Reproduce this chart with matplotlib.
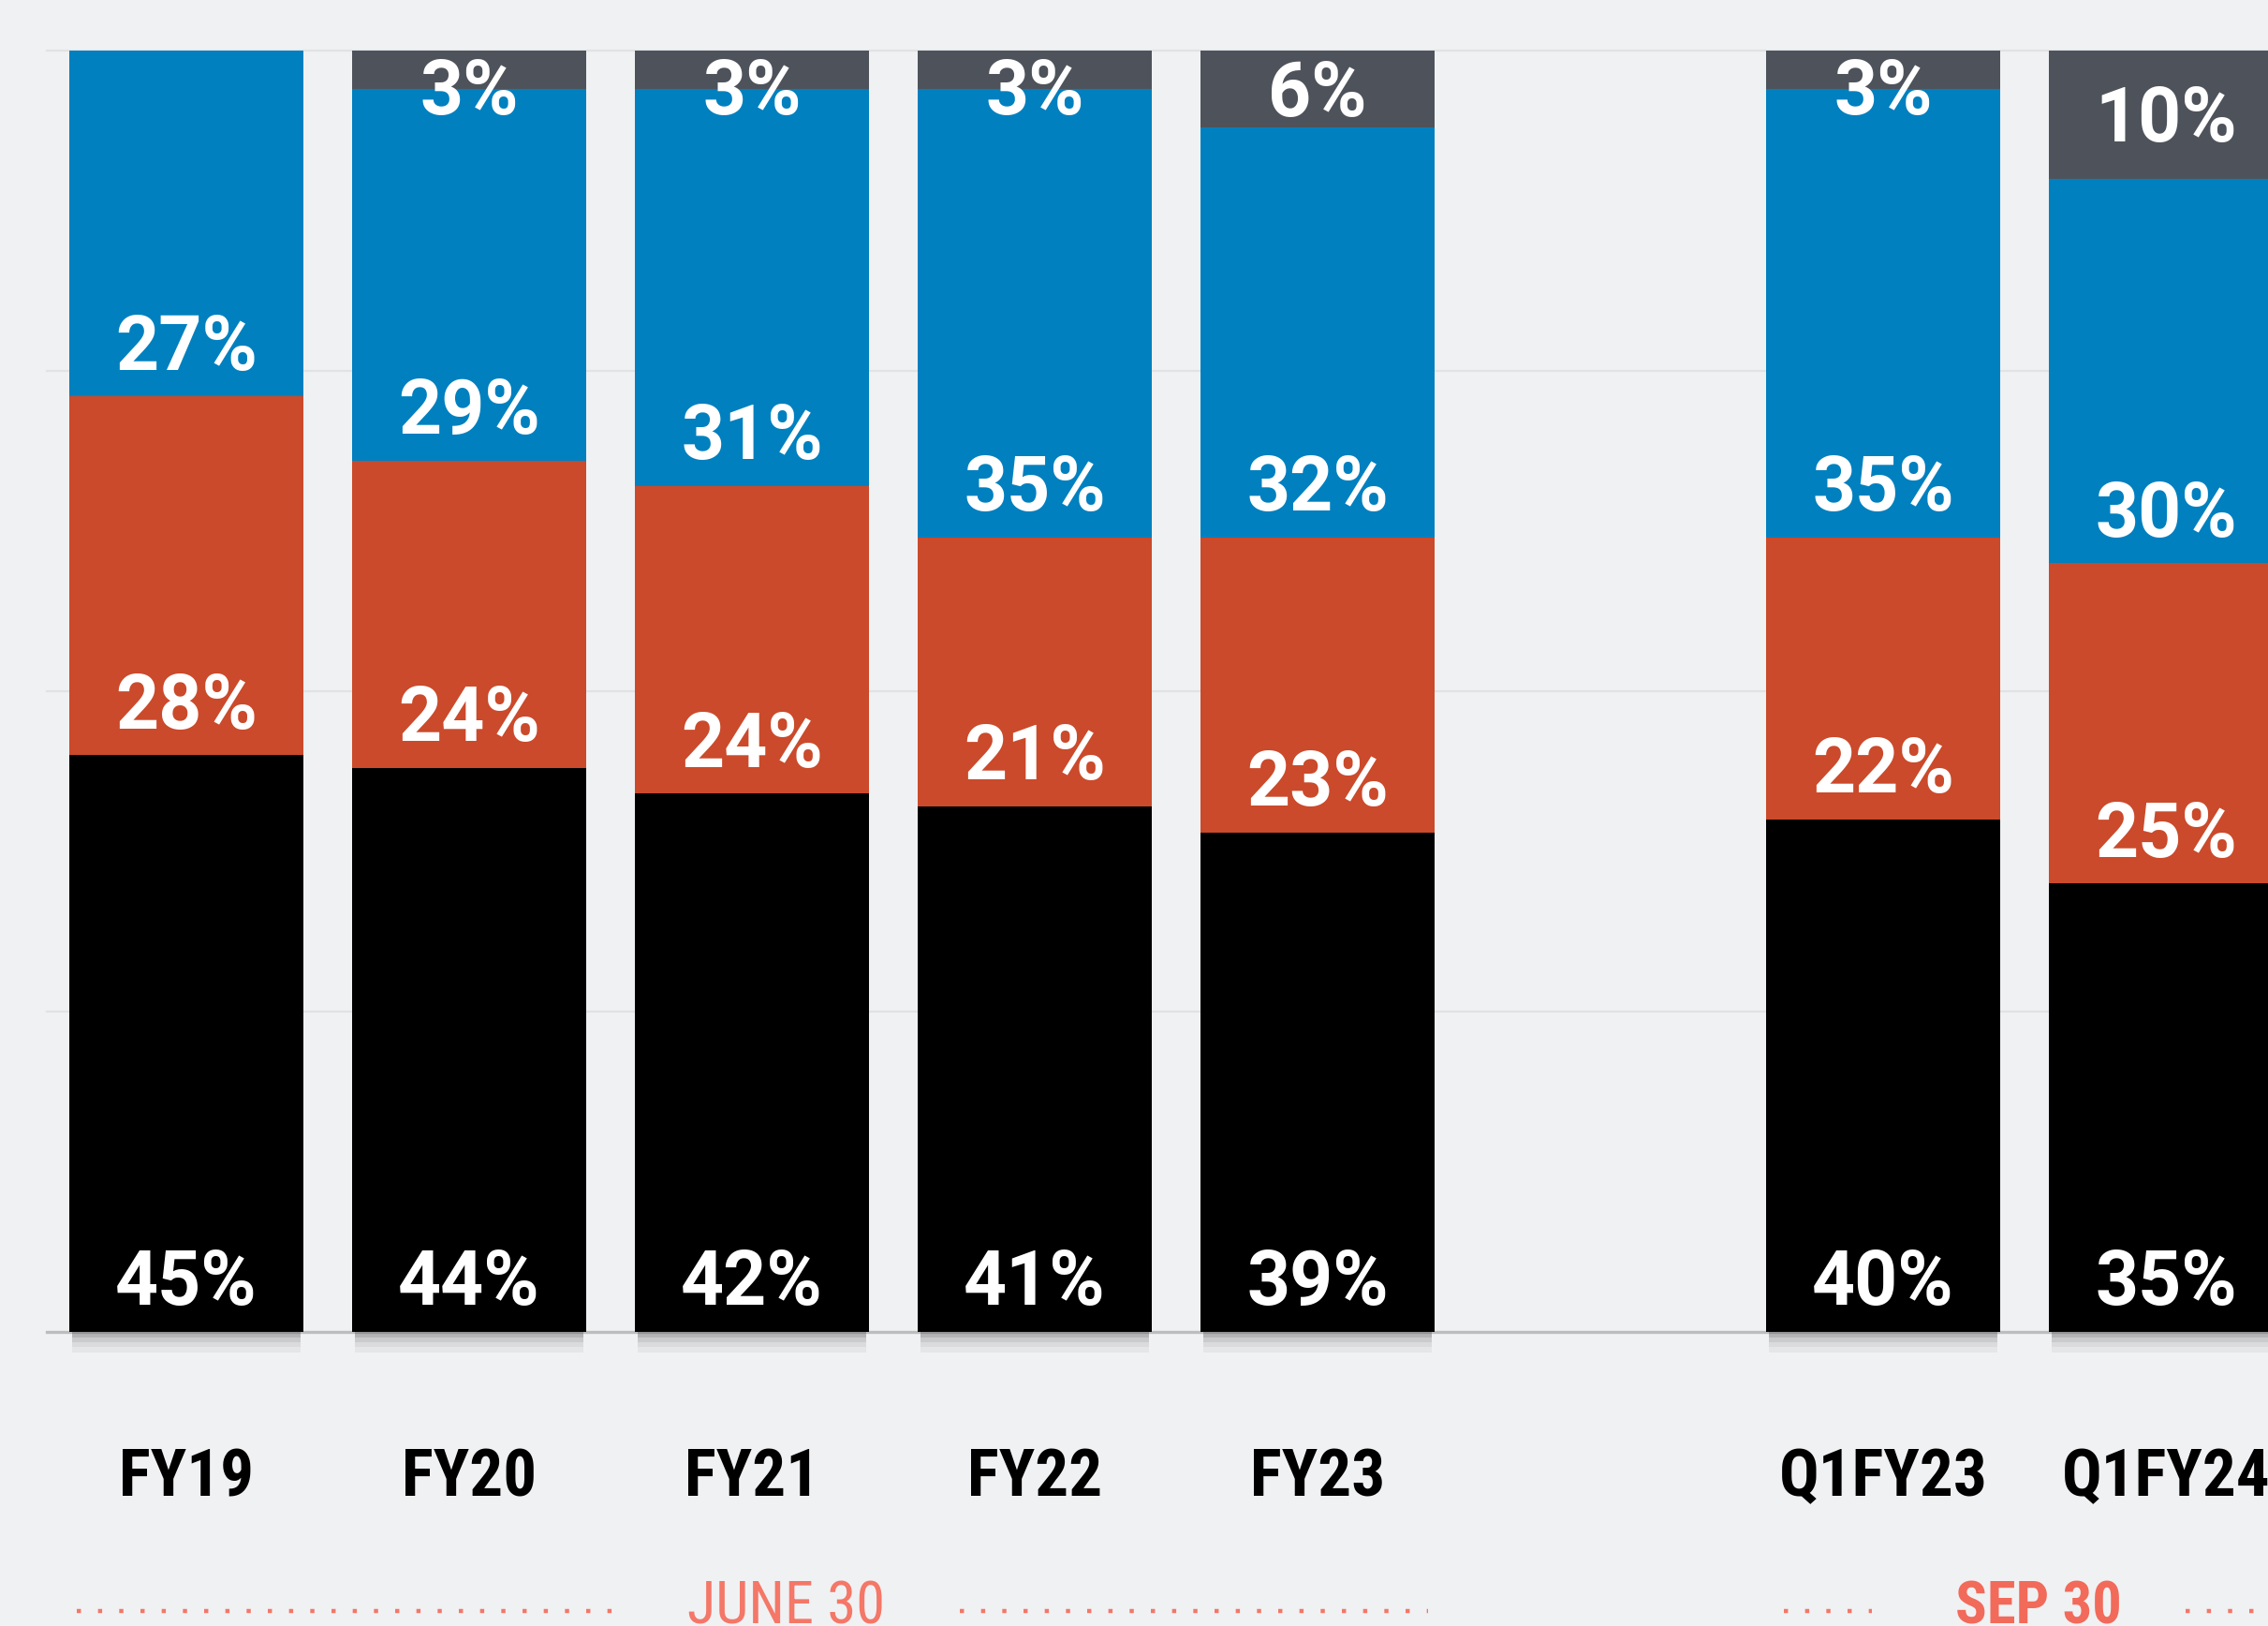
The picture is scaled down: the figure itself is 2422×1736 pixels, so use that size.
import matplotlib
matplotlib.use('Agg')
import matplotlib.pyplot as plt
from matplotlib import font_manager

# data, bottom segment first
periods = ['FY19', 'FY20', 'FY21', 'FY22', 'FY23', 'Q1FY23', 'Q1FY24']
black_vals = [45, 44, 42, 41, 39, 40, 35]
orange_vals = [28, 24, 24, 21, 23, 22, 25]
blue_vals = [27, 29, 31, 35, 32, 35, 30]
gray_vals = [0, 3, 3, 3, 6, 3, 10]

group_labels = ['JUNE 30', 'SEP 30']

# layout
x_pos = [0, 1, 2, 3, 4, 6, 7]
bar_w = 0.83
bg = '#f0f1f3'
colors = ['#000000', '#ca4a2b', '#0080bf', '#4e535b']
coral = '#f47767'

num_font = ['Roboto', 'DejaVu Sans']

# condensed face for the axis labels if one is around, else shrink Roboto a bit
installed = {f.name for f in font_manager.fontManager.ttflist}
narrow = [n for n in ['Roboto Condensed', 'Liberation Sans Narrow', 'DejaVu Sans Condensed']
          if n in installed]
if narrow:
    cat_font = [narrow[0], 'DejaVu Sans']
    cat_size, grp_size = 51, 45
else:
    cat_font = ['Roboto', 'DejaVu Sans']
    cat_size, grp_size = 44, 39

fig = plt.figure(figsize=(24.22, 17.36), dpi=100)
fig.patch.set_facecolor(bg)
ax = fig.add_axes([0, 0, 1, 1])
ax.set_facecolor(bg)
ax.set_xlim(-0.659, 7.361)
ax.set_ylim(-22.95, 103.95)
ax.axis('off')

# grid lines
for g in [25, 50, 75, 100]:
    ax.plot([-0.493, 7.361], [g, g], color='#e1e2e4', lw=1.6, zorder=0)
ax.plot([-0.493, 7.361], [0, 0], color='#bcbdbf', lw=2.4, zorder=1)

# soft shadow under bars
for k, a in enumerate([0.35, 0.22, 0.12, 0.06]):
    ax.bar(x_pos, [0.4] * len(x_pos), bottom=-0.4 * (k + 1), width=bar_w * 0.97,
           color='#444444', alpha=a, lw=0, zorder=1)

series = [black_vals, orange_vals, blue_vals, gray_vals]
bottoms = [0] * len(periods)
for vals, col in zip(series, colors):
    ax.bar(x_pos, vals, bottom=bottoms, width=bar_w, color=col, lw=0, zorder=2)
    bottoms = [b + v for b, v in zip(bottoms, vals)]

# value labels (baseline a bit above the bottom of each segment)
for i, x in enumerate(x_pos):
    base = 0
    for j, vals in enumerate(series):
        v = vals[i]
        if v == 0:
            continue
        if j == 3:
            y = min(base + v / 2, 97.1) - 2.1
        else:
            y = base + 2.1
        ax.text(x, y, '{}%'.format(v), ha='center', va='baseline', color='white',
                fontsize=58, fontweight='bold', family=num_font, zorder=3)
        base += v

# category labels
for x, lab in zip(x_pos, periods):
    ax.text(x, -12.8, lab, ha='center', va='baseline', color='black',
            fontsize=cat_size, fontweight='bold', family=cat_font)

# group labels with dotted rules
dots = dict(color=coral, lw=3.2, linestyle=(0, (1, 4.1)), solid_capstyle='butt')
ax.plot([-0.387, 1.553], [-21.8, -21.8], **dots)
ax.plot([2.735, 4.391], [-21.8, -21.8], **dots)
ax.plot([5.65, 5.96], [-21.8, -21.8], **dots)
ax.plot([7.07, 7.361], [-21.8, -21.8], **dots)
ax.text(2.12, -22.75, group_labels[0], ha='center', va='baseline', color=coral,
        fontsize=grp_size, family=cat_font)
ax.text(6.55, -22.75, group_labels[1], ha='center', va='baseline', color='#f26a5a',
        fontsize=grp_size, fontweight='bold', family=cat_font)

fig.savefig('out.png', dpi=100, facecolor=bg)
